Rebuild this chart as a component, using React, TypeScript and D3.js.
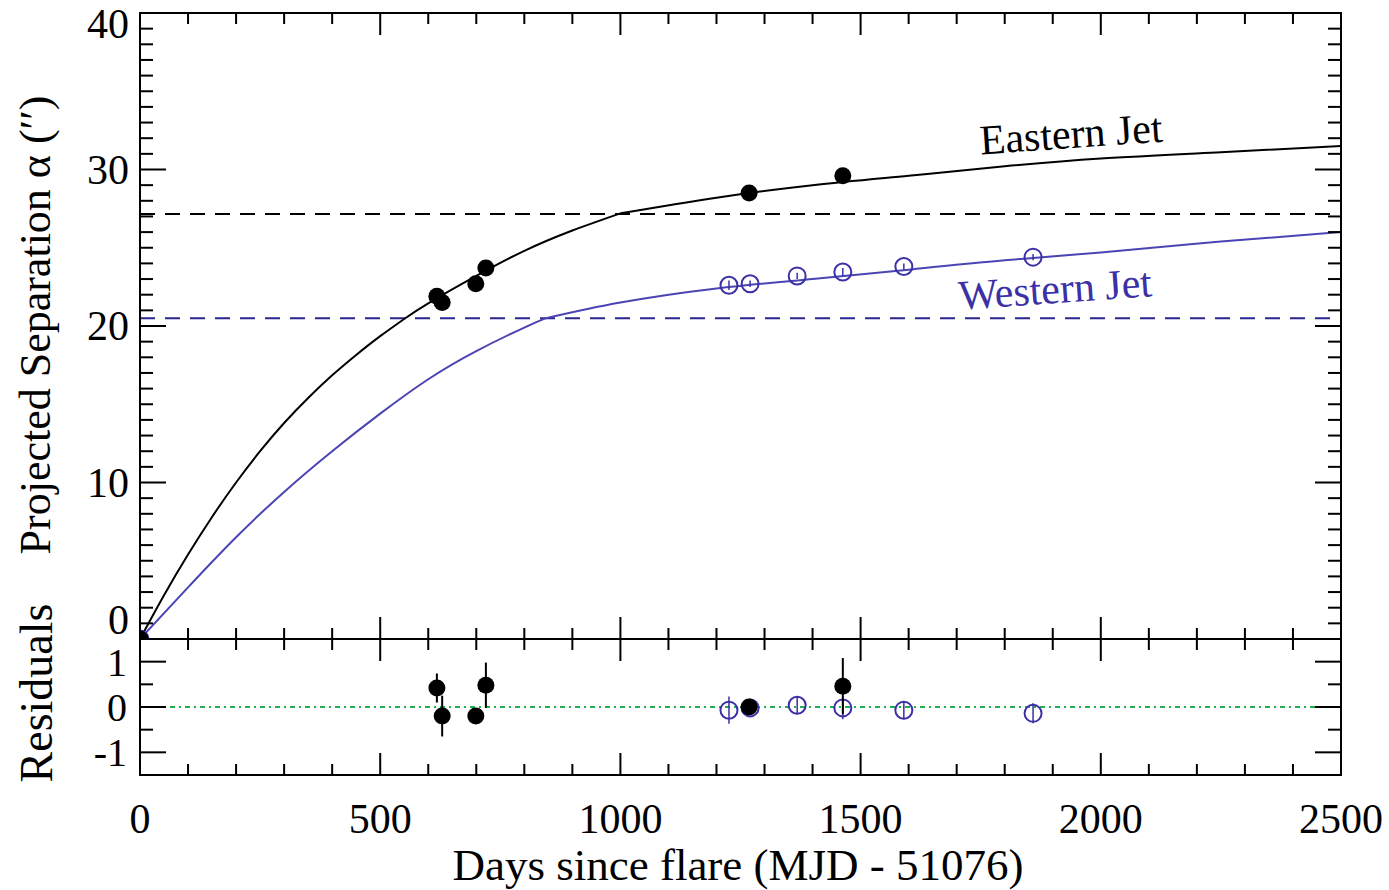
import * as d3 from "d3";
import React from "react";

// model curves (days since flare -> projected separation, arcsec)
const eastPre = [[0, 0], [50, 2.8], [100, 5.4], [150, 7.8], [200, 10.0], [250, 12.0], [300, 13.8], [350, 15.4], [400, 16.85], [450, 18.15], [500, 19.35], [550, 20.45], [600, 21.45], [700, 23.2], [800, 24.8], [900, 26.1], [1000, 27.2]];
const eastPost = [[1000, 27.2], [1200, 28.2], [1400, 29.0], [1600, 29.6], [1800, 30.2], [2000, 30.7], [2250, 31.1], [2500, 31.5]];
const westPre = [[0, 0], [100, 3.3], [200, 6.5], [300, 9.4], [400, 12.0], [500, 14.4], [600, 16.6], [700, 18.4], [800, 19.9], [845, 20.5]];
const westPost = [[845, 20.5], [1000, 21.5], [1200, 22.4], [1400, 23.0], [1600, 23.6], [1800, 24.2], [2000, 24.7], [2250, 25.4], [2500, 26.0]];

// asymptotes
const eastLimit = 27.15;
const westLimit = 20.5;

// measurements: [day, separation, error]
const eastObs = [[0, 0, 0], [618, 21.9, 0.2], [629, 21.5, 0.2], [699, 22.7, 0.2], [720, 23.7, 0.2], [1268, 28.5, 0.2], [1463, 29.6, 0.4]];
const westObs = [[0, 0, 0], [1226, 22.6, 0.3], [1270, 22.7, 0.2], [1368, 23.2, 0.2], [1463, 23.45, 0.25], [1590, 23.8, 0.2], [1859, 24.4, 0.2]];

// residuals: [day, residual, error]
const eastRes = [[618, 0.42, 0.32], [629, -0.2, 0.45], [699, -0.2, 0.15], [720, 0.48, 0.5], [1268, 0.0, 0.1], [1463, 0.46, 0.62]];
const westRes = [[1226, -0.07, 0.3], [1270, -0.02, 0.1], [1368, 0.04, 0.2], [1463, -0.02, 0.25], [1590, -0.07, 0.2], [1859, -0.14, 0.22]];

const xTicks = [0, 500, 1000, 1500, 2000, 2500];
const yTicks = [0, 10, 20, 30, 40];
const resTicks = [-1, 0, 1];

const W = 1389, H = 890;
const L = 140, R = 1341, T = 13, MID = 639, B = 775;
const font = "'Liberation Serif', 'Times New Roman', serif";
const blue = "#3b30a6";

export default function App() {
  const x = d3.scaleLinear().domain([0, 2500]).range([L, R]);
  const y = d3.scaleLinear().domain([0, 40]).range([MID, T]);
  const yr = d3.scaleLinear().domain([-1.5, 1.5]).range([B, MID]);

  const line = d3.line<number[]>()
    .x(d => x(d[0]))
    .y(d => y(d[1]))
    .curve(d3.curveNatural);

  const xMinor = d3.range(0, 2501, 100);
  const yMinor = d3.range(0, 41, 1);
  const rMinor = [-0.5, 0.5];

  const tick = (x1, y1, x2, y2, k) => (
    <line key={k} x1={x1} y1={y1} x2={x2} y2={y2} stroke="#000" strokeWidth={2} />
  );

  return (
    <svg width={W} height={H} style={{ position: "absolute", left: 0, top: 0, background: "#fff" }}>
      <defs>
        <clipPath id="mainClip"><rect x={L} y={T} width={R - L} height={MID - T} /></clipPath>
        <clipPath id="resClip"><rect x={L} y={MID} width={R - L} height={B - MID} /></clipPath>
      </defs>

      {/* asymptotes */}
      <line x1={L} x2={R} y1={y(eastLimit)} y2={y(eastLimit)} stroke="#000" strokeWidth={2} strokeDasharray="15,10" />
      <line x1={L} x2={R} y1={y(westLimit)} y2={y(westLimit)} stroke="#2a2690" strokeWidth={2} strokeDasharray="15,10" />

      {/* model curves */}
      <g clipPath="url(#mainClip)" fill="none" strokeWidth={2}>
        <path d={line(eastPre)} stroke="#000" />
        <path d={line(eastPost)} stroke="#000" />
        <path d={line(westPre)} stroke="#4a44b4" />
        <path d={line(westPost)} stroke="#4a44b4" />
      </g>

      {/* main points */}
      <g clipPath="url(#mainClip)">
        {westObs.map((d, i) => (
          <g key={"w" + i}>
            <line x1={x(d[0])} x2={x(d[0])} y1={y(d[1] - d[2])} y2={y(d[1] + d[2])} stroke={blue} strokeWidth={1.5} />
            <circle cx={x(d[0])} cy={y(d[1])} r={8.5} fill="none" stroke={blue} strokeWidth={2} />
          </g>
        ))}
        {eastObs.map((d, i) => (
          <g key={"e" + i}>
            <line x1={x(d[0])} x2={x(d[0])} y1={y(d[1] - d[2])} y2={y(d[1] + d[2])} stroke="#000" strokeWidth={1.5} />
            <circle cx={x(d[0])} cy={y(d[1])} r={8.5} fill="#000" />
          </g>
        ))}
      </g>

      {/* residual panel */}
      <line x1={L} x2={R} y1={yr(0)} y2={yr(0)} stroke="#1fb050" strokeWidth={2} strokeDasharray="5,4,2,4" />
      <g clipPath="url(#resClip)">
        {westRes.map((d, i) => (
          <g key={"wr" + i}>
            <line x1={x(d[0])} x2={x(d[0])} y1={yr(d[1] - d[2])} y2={yr(d[1] + d[2])} stroke={blue} strokeWidth={1.5} />
            <circle cx={x(d[0])} cy={yr(d[1])} r={8.5} fill="none" stroke={blue} strokeWidth={2} />
          </g>
        ))}
        {eastRes.map((d, i) => (
          <g key={"er" + i}>
            <line x1={x(d[0])} x2={x(d[0])} y1={yr(d[1] - d[2])} y2={yr(d[1] + d[2])} stroke="#000" strokeWidth={2} />
            <circle cx={x(d[0])} cy={yr(d[1])} r={8.5} fill="#000" />
          </g>
        ))}
      </g>

      {/* frames */}
      <rect x={L} y={T} width={R - L} height={MID - T} fill="none" stroke="#000" strokeWidth={2} />
      <rect x={L} y={MID} width={R - L} height={B - MID} fill="none" stroke="#000" strokeWidth={2} />

      {/* x ticks: inside every panel edge */}
      {xMinor.map(v => {
        const big = v % 500 === 0;
        const len = big ? 22 : 11;
        const px = x(v);
        return (
          <g key={"xt" + v}>
            {tick(px, T, px, T + len, "a")}
            {tick(px, MID, px, MID - len, "b")}
            {tick(px, MID, px, MID + len, "c")}
            {tick(px, B, px, B - len, "d")}
          </g>
        );
      })}

      {/* y ticks main */}
      {yMinor.map(v => {
        const len = v % 10 === 0 ? 26 : 13;
        const py = y(v);
        return (
          <g key={"yt" + v}>
            {tick(L, py, L + len, py, "a")}
            {tick(R, py, R - len, py, "b")}
          </g>
        );
      })}

      {/* y ticks residuals */}
      {resTicks.concat(rMinor).map(v => {
        const len = Number.isInteger(v) ? 26 : 13;
        const py = yr(v);
        return (
          <g key={"rt" + v}>
            {tick(L, py, L + len, py, "a")}
            {tick(R, py, R - len, py, "b")}
          </g>
        );
      })}

      {/* labels */}
      <g fontFamily={font} fontSize={42} fill="#000">
        {xTicks.map(v => (
          <text key={"xl" + v} x={x(v)} y={833} textAnchor="middle">{v}</text>
        ))}
        {yTicks.map(v => (
          <text key={"yl" + v} x={129} y={Math.min(Math.max(y(v), 24), 620) + 14} textAnchor="end">{v}</text>
        ))}
        {resTicks.map(v => (
          <text key={"rl" + v} x={127} y={yr(v) + 14} fontSize={40} textAnchor="end">{v === -1 ? "-1" : v}</text>
        ))}
        <text x={738} y={880} textAnchor="middle" fontSize={45}>Days since flare (MJD - 51076)</text>
        <text transform="translate(50,325) rotate(-90)" textAnchor="middle" fontSize={44}>Projected Separation α (′′)</text>
        <text transform="translate(52,693) rotate(-90)" textAnchor="middle" fontSize={46}>Residuals</text>
        <text transform="translate(1072,148) rotate(-4)" textAnchor="middle" fontSize={42}>Eastern Jet</text>
        <text transform="translate(1056,303) rotate(-4)" textAnchor="middle" fontSize={42} fill={blue}>Western Jet</text>
      </g>
    </svg>
  );
}
